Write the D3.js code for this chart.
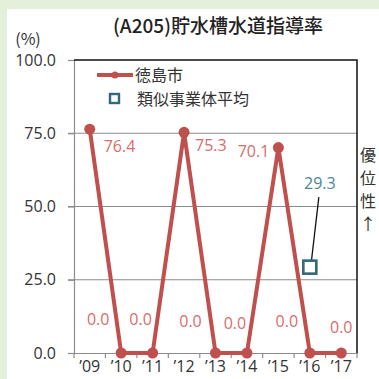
<!DOCTYPE html>
<html>
<head>
<meta charset="utf-8">
<script src="https://cdn.jsdelivr.net/npm/d3@7"></script>
<style>
  body { margin: 0; background: #fff; }
  svg { display: block; }
</style>
</head>
<body>
<svg id="chart" width="379" height="379"></svg>
<script>
// data
const years = ["’09", "’10", "’11", "’12", "’13", "’14", "’15", "’16", "’17"];
const cityValues = [76.4, 0.0, 0.0, 75.3, 0.0, 0.0, 70.1, 0.0, 0.0];
const avgValues = [null, null, null, null, null, null, null, 29.3, null];
const yTicks = [0, 25, 50, 75, 100];
const seriesNames = ["徳島市", "類似事業体平均"];

const W = 379, H = 379;
const margin = { left: 74, right: 22, top: 60, bottom: 26 };
const red = '#c0504d', teal = '#31687a';
const numFont = '"Open Sans", Roboto, sans-serif';
const jpFont = '"Noto Sans CJK JP", sans-serif';

const svg = d3.select('#chart');

// green frame
svg.append('rect').attr('width', W).attr('height', H).attr('fill', '#e3f0da');
svg.append('rect').attr('x', 7).attr('y', 9).attr('width', W - 7).attr('height', H - 9).attr('fill', '#fff');

const x = d3.scaleBand().domain(years).range([margin.left, W - margin.right]);
const y = d3.scaleLinear().domain([0, 100]).range([H - margin.bottom, margin.top]);
const cx = d => x(d) + x.bandwidth() / 2;

// title
svg.append('text')
  .attr('x', 218).attr('y', 33)
  .attr('text-anchor', 'middle')
  .style('font-family', jpFont)
  .style('font-size', '19px').style('font-weight', 500)
  .attr('fill', '#222')
  .text('(A205)貯水槽水道指導率');

svg.append('text')
  .attr('x', 28).attr('y', 45).attr('text-anchor', 'middle')
  .style('font-family', jpFont)
  .style('font-size', '16px').attr('fill', '#333')
  .text('(%)');

// gridlines
svg.append('g').selectAll('line').data(yTicks.filter(t => t > 0 && t < 100))
  .enter().append('line')
  .attr('x1', margin.left - 6).attr('x2', W - margin.right)
  .attr('y1', d => y(d)).attr('y2', d => y(d))
  .attr('stroke', '#8c8c8c').attr('stroke-width', 1.2);

// y axis
const yAxis = d3.axisLeft(y).tickValues(yTicks).tickFormat(d3.format('.1f')).tickSize(6).tickPadding(12);
const gy = svg.append('g').attr('transform', `translate(${margin.left},0)`).call(yAxis);
gy.select('.domain').attr('stroke', '#8c8c8c').attr('stroke-width', 1.2);
gy.selectAll('.tick line').attr('stroke', '#8c8c8c').attr('stroke-width', 1.2);
gy.selectAll('text')
  .style('font-family', numFont)
  .style('font-size', '16px').attr('fill', '#333');

// x axis
const xAxis = d3.axisBottom(x).tickSize(0).tickPadding(8);
const gx = svg.append('g').attr('transform', `translate(0,${y(0)})`).call(xAxis);
gx.select('.domain').attr('stroke', '#8c8c8c').attr('stroke-width', 1.2);
gx.selectAll('text')
  .style('font-family', numFont)
  .style('font-size', '16px').attr('fill', '#333');
// tick marks at band boundaries
svg.append('g').selectAll('line').data(years)
  .enter().append('line')
  .attr('x1', d => x(d)).attr('x2', d => x(d))
  .attr('y1', y(0)).attr('y2', y(0) + 5)
  .attr('stroke', '#8c8c8c').attr('stroke-width', 1.2);
svg.append('line')
  .attr('x1', W - margin.right).attr('x2', W - margin.right)
  .attr('y1', y(0)).attr('y2', y(0) + 5)
  .attr('stroke', '#8c8c8c').attr('stroke-width', 1.2);

// plot border top + right
svg.append('path')
  .attr('d', `M${margin.left},${y(100)}H${W - margin.right}V${y(0)}`)
  .attr('fill', 'none').attr('stroke', '#111').attr('stroke-width', 1.5);

// city line
const line = d3.line().x((d, i) => cx(years[i])).y(d => y(d));
svg.append('path').datum(cityValues)
  .attr('d', line)
  .attr('fill', 'none').attr('stroke', red).attr('stroke-width', 4)
  .attr('stroke-linejoin', 'round');
svg.append('g').selectAll('circle').data(cityValues)
  .enter().append('circle')
  .attr('cx', (d, i) => cx(years[i])).attr('cy', d => y(d))
  .attr('r', 5.5).attr('fill', red);

// city labels (Excel puts them in odd places)
const labelOffsets = [[14, 23, 'start'], [-23, -28, 'middle'], [-12, -28, 'middle'], [11, 19, 'start'],
  [-25, -26, 'middle'], [-12, -24, 'middle'], [-9, 9, 'end'], [-23, -26, 'middle'], [0, -20, 'middle']];
svg.append('g').selectAll('text').data(cityValues)
  .enter().append('text')
  .attr('x', (d, i) => cx(years[i]) + labelOffsets[i][0])
  .attr('y', (d, i) => y(d) + labelOffsets[i][1])
  .attr('text-anchor', (d, i) => labelOffsets[i][2])
  .style('font-family', numFont)
  .style('font-size', '16px').attr('fill', '#d86c6a')
  .text(d => d3.format('.1f')(d));

// average series
const avgPts = avgValues.map((v, i) => ({ v, yr: years[i] })).filter(d => d.v != null);
svg.append('g').selectAll('line').data(avgPts)
  .enter().append('line')
  .attr('x1', d => cx(d.yr) + 1).attr('y1', d => y(d.v) - 1)
  .attr('x2', d => cx(d.yr) + 9).attr('y2', d => y(d.v) - 70)
  .attr('stroke', '#111').attr('stroke-width', 1.3);
svg.append('g').selectAll('rect').data(avgPts)
  .enter().append('rect')
  .attr('x', d => cx(d.yr) - 6.5).attr('y', d => y(d.v) - 6.5)
  .attr('width', 13).attr('height', 13)
  .attr('fill', '#fff').attr('stroke', teal).attr('stroke-width', 2.6);
svg.append('g').selectAll('text').data(avgPts)
  .enter().append('text')
  .attr('x', d => cx(d.yr) + 10).attr('y', d => y(d.v) - 78)
  .attr('text-anchor', 'middle')
  .style('font-family', numFont)
  .style('font-size', '16px').attr('fill', '#4a8797')
  .text(d => d3.format('.1f')(d.v));

// legend
const lg = svg.append('g').attr('transform', 'translate(97,0)');
lg.append('line').attr('x1', 0).attr('x2', 36).attr('y1', 75).attr('y2', 75)
  .attr('stroke', red).attr('stroke-width', 4);
lg.append('circle').attr('cx', 18).attr('cy', 75).attr('r', 3.5).attr('fill', red);
lg.append('rect').attr('x', 13).attr('y', 94).attr('width', 9).attr('height', 9)
  .attr('fill', '#fff').attr('stroke', teal).attr('stroke-width', 2.4);
lg.selectAll('text').data(seriesNames).enter().append('text')
  .attr('x', (d, i) => i === 0 ? 38 : 40).attr('y', (d, i) => i === 0 ? 81 : 105)
  .style('font-family', jpFont)
  .style('font-size', '16px').attr('fill', '#333')
  .text(d => d);

// 優位性↑
svg.append('g').selectAll('text').data(['優', '位', '性', '↑'])
  .enter().append('text')
  .attr('x', 368).attr('y', (d, i) => 161 + i * 23)
  .attr('text-anchor', 'middle')
  .style('font-family', jpFont)
  .style('font-size', '16px').attr('fill', '#333')
  .text(d => d);
</script>
</body>
</html>
